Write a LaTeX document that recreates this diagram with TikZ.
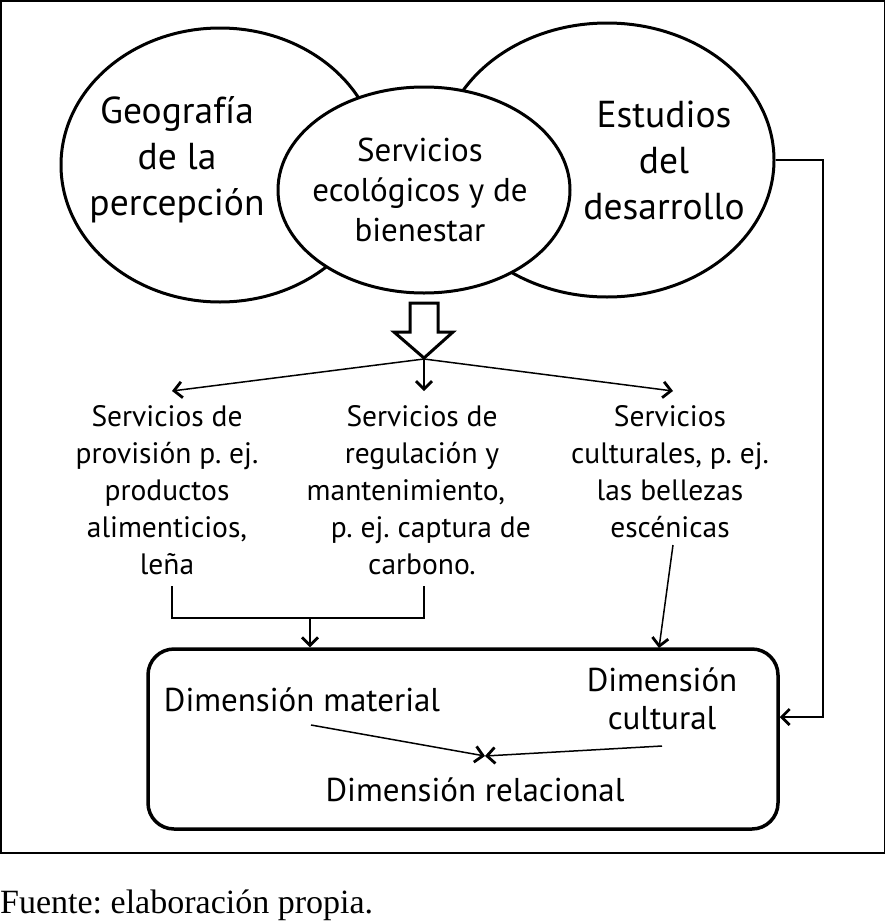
\documentclass[tikz,border=0pt]{standalone}
\usepackage{fontspec}
\setmainfont{PT Sans}
\newfontfamily\fuentefont{Liberation Serif}
\usetikzlibrary{shapes.geometric,arrows.meta}
\frenchspacing
\begin{document}
\frenchspacing
\begin{tikzpicture}[x=1pt,y=-1pt,
 ell/.style={ellipse,draw,line width=3pt,fill=white,inner sep=0pt},
 big/.style={font=\frenchspacing\fontsize{37.5}{46}\selectfont,align=center,inner sep=0pt},
 mid/.style={font=\frenchspacing\fontsize{33}{40}\selectfont,align=center,inner sep=0pt},
 small/.style={font=\frenchspacing\fontsize{29.5}{37}\selectfont,align=center,inner sep=0pt},
 boxt/.style={font=\frenchspacing\fontsize{33}{38}\selectfont,align=center,inner sep=0pt},
 conn/.style={line width=1.5pt},
 arr/.style={conn,-{Straight Barb[length=8pt,width=16pt,line width=2.8pt]}},
]
\useasboundingbox (0,0) rectangle (886,921);
\draw[line width=1.5pt] (0.75,0.75) rectangle (884.5,853);
% ellipses
\node[ell,minimum width=318pt,minimum height=274pt] (geo) at (220,165) {};
\node[ell,minimum width=334pt,minimum height=274pt] (est) at (607,160) {};
\node[ell,minimum width=292pt,minimum height=206pt] (ser) at (424,190) {};
\node[big] (geot) at (177,160) {Geografía\\de la\\percepción};
\node[big] (estt) at (664,160) {Estudios\\del\\desarrollo};
\node[mid] (sert) at (420,190) {Servicios\\ecológicos y de\\bienestar};
% hollow arrow
\draw[line width=3pt,line join=miter] (410,303) -- (438,303) -- (438,332) -- (453,332) -- (424,358) -- (394,332) -- (410,332) -- cycle;
\coordinate (tip) at (424,359);
\coordinate (tl) at (172,391);
\coordinate (tm) at (424,391);
\coordinate (tr) at (673,391);
\draw[arr] (tip) -- (tl);
\draw[arr] (tip) -- (tm);
\draw[arr] (tip) -- (tr);
% service texts
\node[small] (prov) at (167,490) {Servicios de\\provisión p. ej.\\productos\\alimenticios,\\leña};
\node[small] (reg) at (422,490) {Servicios de\\regulación y\\mantenimiento,\rule{1.1em}{0pt}\\\rule{0.6em}{0pt}p. ej. captura de\\carbono.};
\node[small] (cul) at (670,472) {Servicios\\culturales, p. ej.\\las bellezas\\escénicas};
% box
\node[draw,line width=3.5pt,rounded corners=26pt,minimum width=630pt,minimum height=180pt] (box) at (463,739) {};
\node[boxt] (dmat) at (302,700) {Dimensión material};
\node[boxt] (dcul) at (662,699) {Dimensión\\cultural};
\node[boxt] (drel) at (475,790) {Dimensión relacional};
% connectors to box
\coordinate (pl) at (172,586);
\coordinate (pr) at (424,586);
\coordinate (pj) at (310,618);
\draw[conn] (pl) |- (pr |- pj) -- (pr);
\draw[arr] (pj) -- (pj |- box.north);
\coordinate (cs) at (673,545);
\draw[arr] (cs) -- (659,648);
\coordinate (rc) at (823,717);
\draw[arr] (est.east) -| (rc) -- (rc -| box.east);
% internal arrows
\coordinate (m0) at (311,725);
\coordinate (c0) at (662,746);
\coordinate (rel) at (485,756);
\draw[arr] (m0) -- (rel);
\draw[arr] (c0) -- (rel);
% source
\node[anchor=west,inner sep=0pt,font=\fuentefont\frenchspacing\fontsize{34}{36}\selectfont] (src) at (0,905) {Fuente: elaboración propia.};
\end{tikzpicture}
\end{document}
